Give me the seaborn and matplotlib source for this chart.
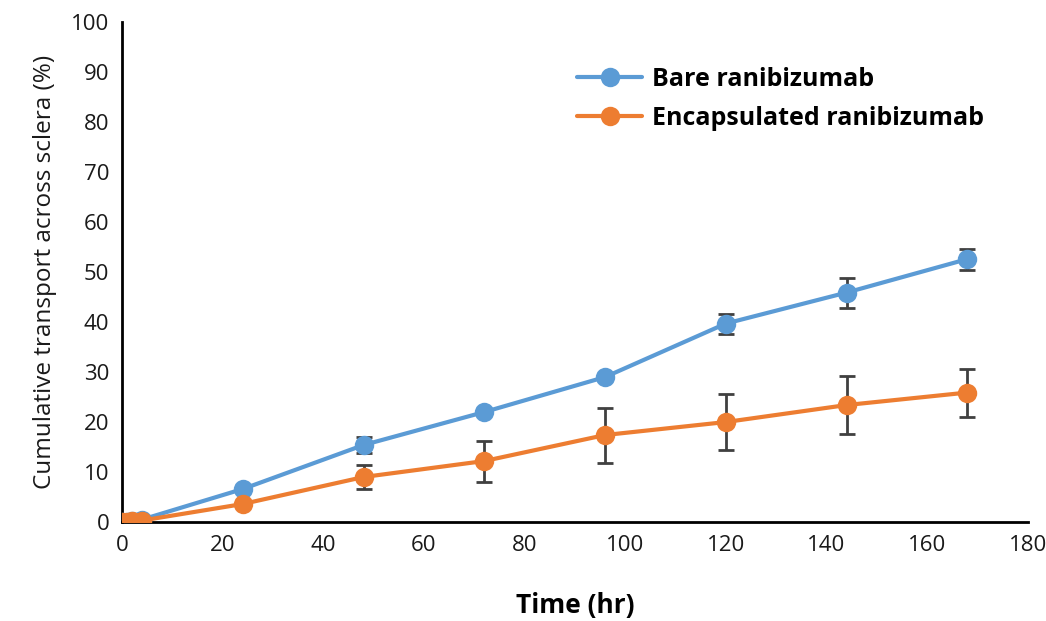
import matplotlib
matplotlib.use('Agg')
import matplotlib.pyplot as plt
import pandas as pd
import seaborn as sns

# data
time_hr = [0, 1, 2, 4, 24, 48, 72, 96, 120, 144, 168]
bare = [0, 0, 0.3, 0.5, 6.6, 15.4, 22.0, 29.0, 39.7, 45.9, 52.6]
bare_err = [0, 0, 0, 0, 0, 1.6, 0, 0, 2.0, 3.0, 2.1]
encap = [0, 0.1, 0.2, 0.3, 3.6, 9.0, 12.2, 17.4, 20.0, 23.4, 25.9]
encap_err = [0, 0, 0, 0, 0, 2.4, 4.1, 5.5, 5.6, 5.8, 4.8]

series_names = ['Bare ranibizumab', 'Encapsulated ranibizumab']
colors = ['#5B9BD5', '#ED7D31']

df = pd.concat([
    pd.DataFrame({'time': time_hr, 'value': bare, 'err': bare_err, 'series': series_names[0]}),
    pd.DataFrame({'time': time_hr, 'value': encap, 'err': encap_err, 'series': series_names[1]}),
])

sns.set_theme(style='white')
plt.rcParams['font.family'] = ['Open Sans', 'DejaVu Sans']

fig = plt.figure(figsize=(10.46, 6.21), dpi=100)
ax = fig.add_axes([0.1166, 0.1594, 0.866, 0.805])

# error bars first so markers sit on top
for name in series_names:
    sub = df[df['series'] == name]
    ax.errorbar(sub['time'], sub['value'], yerr=sub['err'], fmt='none',
                ecolor='#404040', elinewidth=2, capsize=6, capthick=2, zorder=2)

sns.lineplot(data=df, x='time', y='value', hue='series', palette=colors,
             marker='o', markersize=14, markeredgewidth=0, linewidth=3,
             ax=ax, zorder=3)

ax.set_xlim(0, 180)
ax.set_ylim(0, 100)
ax.set_xticks(range(0, 181, 20))
ax.set_yticks(range(0, 101, 10))
ax.tick_params(axis='both', labelsize=16, length=0, pad=9)
for lab in ax.get_xticklabels() + ax.get_yticklabels():
    lab.set_color('#1a1a1a')

ax.set_xlabel('Time (hr)', fontsize=19, fontweight='bold', labelpad=26, color='black')
ax.set_ylabel('Cumulative transport across sclera (%)', fontsize=17.5, labelpad=10,
              color='#1a1a1a')

sns.despine(ax=ax)
ax.spines['left'].set_linewidth(2)
ax.spines['bottom'].set_linewidth(2)
ax.spines['left'].set_color('black')
ax.spines['bottom'].set_color('black')
for sp in ax.spines.values():
    sp.set_zorder(1)

leg = ax.legend(loc='upper left', bbox_to_anchor=(0.478, 0.955), frameon=False,
                prop={'weight': 'bold', 'size': 18}, handlelength=2.6,
                handletextpad=0.4, labelspacing=0.55)
for t in leg.get_texts():
    t.set_color('black')

fig.savefig('out.png', dpi=100)
